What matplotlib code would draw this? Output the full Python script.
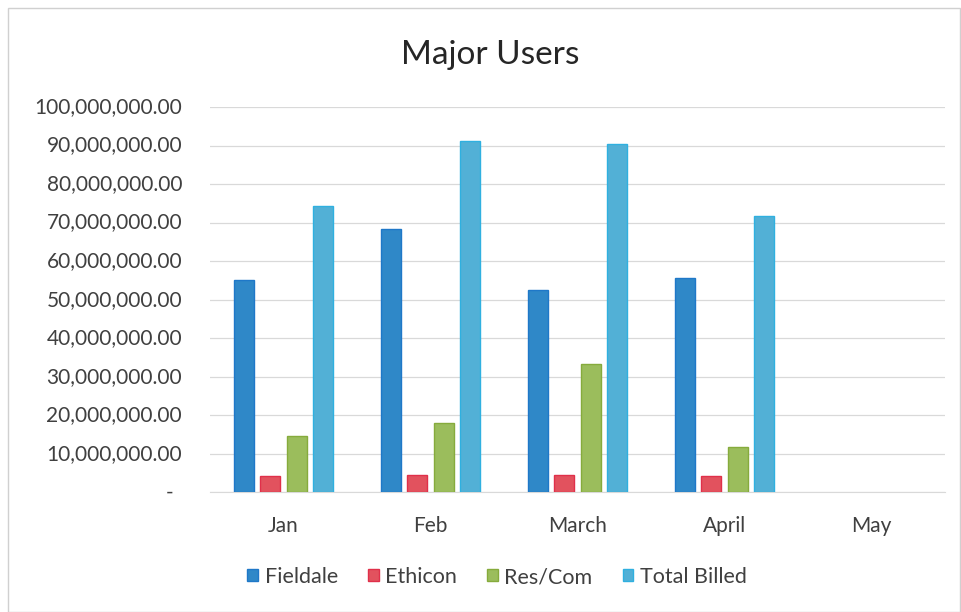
import matplotlib
matplotlib.use("Agg")
import matplotlib.pyplot as plt
import matplotlib.transforms as mtransforms
import numpy as np
from matplotlib.patches import Rectangle

plt.rcParams['font.family'] = ['Lato', 'DejaVu Sans']

months = ["Jan", "Feb", "March", "April", "May"]
series_names = ["Fieldale", "Ethicon", "Res/Com", "Total Billed"]
fieldale = [55.1e6, 68.4e6, 52.5e6, 55.7e6, np.nan]
ethicon = [4.3e6, 4.6e6, 4.4e6, 4.2e6, np.nan]
rescom = [14.6e6, 18.1e6, 33.4e6, 11.8e6, np.nan]
total_billed = [74.4e6, 91.3e6, 90.5e6, 71.7e6, np.nan]
y_ticks = [0, 10e6, 20e6, 30e6, 40e6, 50e6, 60e6, 70e6, 80e6, 90e6, 100e6]

faces = ["#2f88c8", "#e2525e", "#9bbd5c", "#52b0d6"]
edges = ["#1f78c8", "#e0304a", "#86ab3c", "#2fb0e0"]

fig = plt.figure(figsize=(9.62, 6.12), dpi=100)
ax = fig.add_axes([210/962, 1-492.3/612, 735/962, (492.3-107)/612])

x = np.arange(len(months))
pitch = 0.18
width = 0.135
data = [fieldale, ethicon, rescom, total_billed]
for i, (vals, name) in enumerate(zip(data, series_names)):
    ax.bar(x + (i - 1.5) * pitch, vals, width, color=faces[i], edgecolor=edges[i],
           linewidth=1.0, label=name, zorder=3)

ax.set_xlim(-0.5, len(months) - 0.5)
ax.set_ylim(0, 100e6)
ax.set_yticks(y_ticks)
ax.set_yticklabels([])

def fmt(v):
    if abs(v) < 1:
        return "-"
    return f"{v:,.2f}"

trans = mtransforms.blended_transform_factory(fig.transFigure, ax.transData)
for v in y_ticks:
    xr = 182/962 if v > 0 else 173/962
    fig.text(xr, v, fmt(v), transform=trans, ha="right", va="center",
             fontsize=15, color="#404040")

ax.set_xticks(x)
ax.set_xticklabels(months)
ax.tick_params(axis='both', length=0, colors="#404040")
ax.tick_params(axis='x', labelsize=15, pad=17)
ax.grid(axis='y', color="#d9d9d9", linewidth=0.9, zorder=0)
for s in ["top", "right", "left"]:
    ax.spines[s].set_visible(False)
ax.spines["bottom"].set_color("#d9d9d9")

fig.text(490/962, 1-55/612, "Major Users", ha="center", va="center", fontsize=24, color="#262626")

leg = fig.legend(loc="center", bbox_to_anchor=(497/962, 1-577/612), ncol=4, frameon=False,
                 fontsize=15.5, handlelength=0.5, handleheight=0.5, handletextpad=0.3,
                 columnspacing=1.4)
for t in leg.get_texts():
    t.set_color("#404040")

fig.patches.append(Rectangle((8/962, 0), 952/962, 1-8/612, transform=fig.transFigure,
                             fill=False, edgecolor="#d0d0d0", linewidth=1.0))

fig.savefig("out.png", dpi=100, facecolor="white")
